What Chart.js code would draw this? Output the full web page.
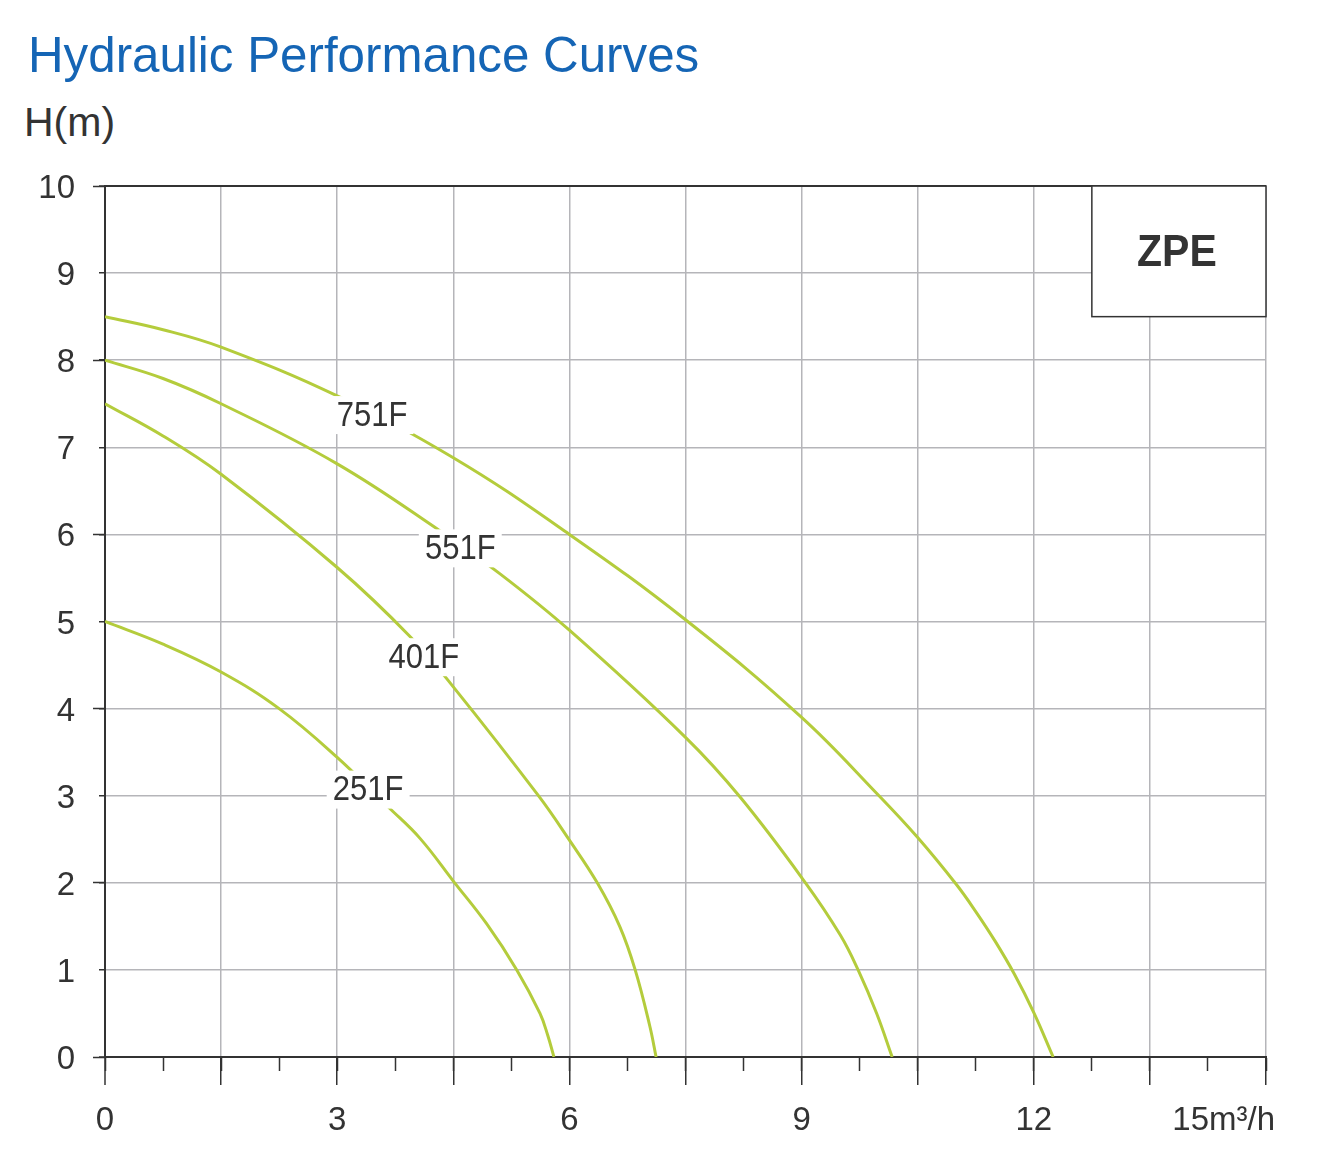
<!DOCTYPE html>
<html>
<head>
<meta charset="utf-8">
<script src="https://cdn.jsdelivr.net/npm/chart.js@4/dist/chart.umd.min.js"></script>
<style>
  html, body { margin: 0; padding: 0; background: #fff; }
  body { width: 1327px; height: 1164px; position: relative; overflow: hidden; font-family: 'Liberation Sans', Arial, sans-serif; }
  #title { position: absolute; left: 28px; top: 30px; font-size: 49.3px; line-height: 49.3px; color: #1565b5; white-space: nowrap; }
  #ylab { position: absolute; left: 24px; top: 102px; font-size: 41px; line-height: 41px; color: #333; white-space: nowrap; }
  canvas { position: absolute; left: 0; top: 0; }
</style>
</head>
<body>
<div id="title">Hydraulic Performance Curves</div>
<div id="ylab">H(m)</div>
<canvas id="c" width="1327" height="1164"></canvas>
<script>
// ---- data (flow Q in m³/h, head H in m) ----
const seriesNames = ['751F', '551F', '401F', '251F'];

const q751 = [0, 0.75, 1.5, 3, 4.5, 6, 7.5, 9, 10, 10.5, 11, 11.25, 11.5, 11.75, 12, 12.25];
const h751 = [8.5, 8.35, 8.15, 7.59, 6.88, 6.0, 5.02, 3.9, 3.0, 2.52, 1.98, 1.67, 1.33, 0.95, 0.51, 0];

const q551 = [0, 0.75, 1.5, 3, 4.33, 5.1, 6, 7.5, 8.2, 9.05, 9.5, 9.73, 9.97, 10.17];
const h551 = [8.0, 7.79, 7.5, 6.81, 6.04, 5.55, 4.9, 3.67, 2.99, 2.0, 1.4, 1.0, 0.5, 0];

const q401 = [0, 0.75, 1.5, 3, 3.95, 4.5, 5.6, 6, 6.36, 6.65, 6.85, 7.04, 7.12];
const h401 = [7.5, 7.13, 6.69, 5.62, 4.82, 4.25, 3.0, 2.49, 2.0, 1.5, 1.0, 0.35, 0];

const q251 = [0, 0.75, 1.5, 2.25, 3, 3.66, 4.07, 4.5, 4.93, 5.32, 5.62, 5.72, 5.80];
const h251 = [5.0, 4.74, 4.42, 4.0, 3.44, 2.87, 2.51, 2.02, 1.53, 1.0, 0.5, 0.25, 0];

// curve label anchors (data units)
const labelQ = [3.45, 4.59, 4.12, 3.40];
const labelH = [7.37, 5.84, 4.59, 3.07];

// axes
const xMin = 0, xMax = 15, xMinorStep = 0.75, xMajorStep = 1.5, xLabelStep = 3;
const yMin = 0, yMax = 10, yMinorStep = 1, yMajorStep = 2;
const xUnitLabel = '15m³/h';
const modelName = 'ZPE';
const boxQ = [12.75, 15];
const boxH = [8.5, 10];

// ---- styles ----
const curveColor = '#b4cc3c';
const gridGray = '#b5b5b9';
const dark = '#333333';
const FONT = "'Liberation Sans', Arial, sans-serif";

const toPts = (qs, hs) => qs.map((q, i) => ({ x: q, y: hs[i] }));
const allQ = [q751, q551, q401, q251];
const allH = [h751, h551, h401, h251];

const datasets = seriesNames.map((n, i) => ({
  label: n,
  data: toPts(allQ[i], allH[i]),
  showLine: true,
  borderColor: curveColor,
  borderWidth: 3,
  pointRadius: 0,
  tension: 0.4,
  fill: false
}));

const X_TICK_LEN = 14, X_PAD = 30, X_FONT = 33;

const overlay = {
  id: 'overlay',
  afterDatasetsDraw(chart) {
    const c = chart.ctx;
    const xs = chart.scales.x, ys = chart.scales.y;
    // curve labels
    c.save();
    c.textAlign = 'center';
    c.textBaseline = 'middle';
    seriesNames.forEach((n, i) => {
      const px = xs.getPixelForValue(labelQ[i]);
      const py = ys.getPixelForValue(labelH[i]);
      c.font = `32px ${FONT}`;
      const w = c.measureText(n).width;
      c.fillStyle = '#fff';
      c.fillRect(px - w / 2 - 5, py - 19, w + 10, 38);
      c.fillStyle = dark;
      c.save();
      c.translate(px, py + 1);
      c.scale(0.97, 1.1);
      c.fillText(n, 0, 0);
      c.restore();
    });
    // model box
    const bx1 = xs.getPixelForValue(boxQ[0]), bx2 = xs.getPixelForValue(boxQ[1]);
    const by1 = ys.getPixelForValue(boxH[1]), by2 = ys.getPixelForValue(boxH[0]);
    c.fillStyle = '#fff';
    c.fillRect(bx1, by1, bx2 - bx1, by2 - by1);
    c.strokeStyle = dark;
    c.lineWidth = 1.5;
    c.strokeRect(bx1, by1, bx2 - bx1, by2 - by1);
    c.fillStyle = dark;
    c.font = `bold 41px ${FONT}`;
    c.save();
    c.translate((bx1 + bx2) / 2 - 2, (by1 + by2) / 2 + 2);
    c.scale(1, 1.08);
    c.fillText(modelName, 0, 0);
    c.restore();
    c.restore();
  },
  afterDraw(chart) {
    const c = chart.ctx;
    const xs = chart.scales.x;
    c.save();
    c.font = `${X_FONT}px ${FONT}`;
    c.fillStyle = dark;
    c.textAlign = 'right';
    c.textBaseline = 'middle';
    const y = xs.top + X_TICK_LEN + X_PAD + X_FONT * 1.2 / 2;
    c.fillText(xUnitLabel, xs.getPixelForValue(xMax) + 9, y);
    c.restore();
  }
};

const isMult = (v, s) => Math.abs(v / s - Math.round(v / s)) < 1e-6;

new Chart(document.getElementById('c'), {
  type: 'scatter',
  data: { datasets },
  plugins: [overlay],
  options: {
    responsive: false,
    animation: false,
    layout: { padding: { top: 186, right: 61, left: 0, bottom: 0 } },
    plugins: { legend: { display: false }, tooltip: { enabled: false } },
    scales: {
      x: {
        type: 'linear', position: 'bottom', min: xMin, max: xMax,
        afterBuildTicks: s => { const t = []; for (let v = xMin; v <= xMax + 1e-9; v += xMinorStep) t.push({ value: +v.toFixed(2) }); s.ticks = t; },
        afterFit: s => { s.height = 107; s.paddingLeft = 0; s.paddingRight = 0; },
        grid: { drawOnChartArea: false, tickLength: X_TICK_LEN, color: dark, tickColor: dark, tickWidth: 1.5 },
        border: { display: true, color: dark, width: 2 },
        ticks: {
          autoSkip: false, maxRotation: 0, padding: X_PAD, color: dark,
          font: { family: FONT, size: X_FONT },
          callback: v => (isMult(v, xLabelStep) && v < xMax) ? String(v) : ''
        }
      },
      xMajor: {
        type: 'linear', axis: 'x', position: { y: 0 }, min: xMin, max: xMax,
        afterBuildTicks: s => { const t = []; for (let v = xMin; v <= xMax + 1e-9; v += xMajorStep) t.push({ value: +v.toFixed(2) }); s.ticks = t; },
        grid: {
          drawOnChartArea: true, tickLength: 28,
          color: ctx => ctx.tick && ctx.tick.value === 0 ? dark : gridGray,
          lineWidth: ctx => ctx.tick && ctx.tick.value === 0 ? 2 : 1.5,
          tickColor: dark, tickWidth: 1.5
        },
        border: { display: false },
        ticks: { display: false }
      },
      y: {
        type: 'linear', position: 'left', min: yMin, max: yMax,
        afterBuildTicks: s => { const t = []; for (let v = yMin; v <= yMax + 1e-9; v += yMinorStep) t.push({ value: v }); s.ticks = t; },
        afterFit: s => { s.width = 105; },
        grid: {
          drawOnChartArea: true, tickLength: 6,
          color: ctx => ctx.tick && (ctx.tick.value === yMax || ctx.tick.value === 0) ? dark : gridGray,
          lineWidth: ctx => ctx.tick && (ctx.tick.value === yMax || ctx.tick.value === 0) ? 2 : 1.5,
          tickColor: dark, tickWidth: 1.5
        },
        border: { display: true, color: dark, width: 2 },
        ticks: { padding: 24, labelOffset: 3, color: dark, font: { family: FONT, size: 33 }, callback: v => String(v) }
      },
      yMajor: {
        type: 'linear', axis: 'y', position: { x: 0 }, min: yMin, max: yMax,
        afterBuildTicks: s => { const t = []; for (let v = yMin; v <= yMax + 1e-9; v += yMajorStep) t.push({ value: v }); s.ticks = t; },
        grid: { drawOnChartArea: false, tickLength: 12, color: dark, tickColor: dark, tickWidth: 1.5 },
        border: { display: false },
        ticks: { display: false }
      }
    }
  }
});
</script>
</body>
</html>
